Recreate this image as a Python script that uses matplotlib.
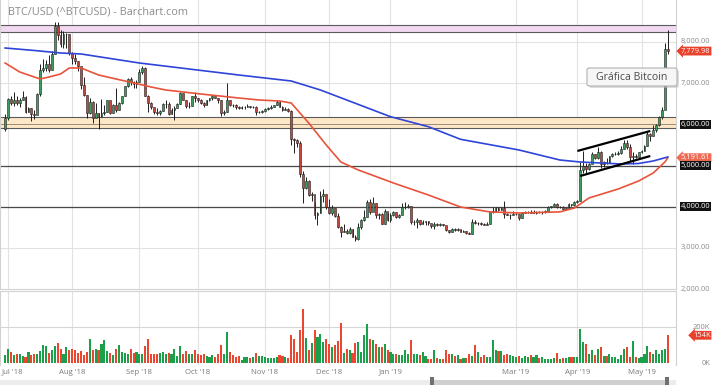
import matplotlib
matplotlib.use("Agg")
import matplotlib.pyplot as plt
from matplotlib.transforms import blended_transform_factory
from matplotlib.patches import Rectangle, FancyBboxPatch
import numpy as np
import pandas as pd

plt.rcParams['font.family'] = ['Open Sans', 'DejaVu Sans']

# daily bars, weekdays only (barchart feed), each day is (close, high, low)
# open of each bar = close of the bar before
first_open = 5900
jun18 = [(6150, 6250, 5830)]
jul18 = [(6620, 6650, 6100), (6510, 6680, 6480), (6600, 6780, 6450), (6530, 6690, 6460), (6600, 6640, 6420),
         (6670, 6800, 6600), (6300, 6680, 6280), (6390, 6410, 6290), (6250, 6390, 6080), (6230, 6340, 6130),
         (6740, 6750, 6330), (7320, 7460, 6680), (7380, 7580, 7260), (7470, 7560, 7300), (7330, 7690, 7280),
         (7720, 7780, 7390), (8400, 8480, 7700), (8170, 8490, 8060), (7940, 8300, 7870), (8190, 8260, 7860),
         (8190, 8230, 7860), (7730, 8200, 7680)]
aug18 = [(7610, 7750, 7460), (7540, 7720, 7460), (7420, 7540, 7300), (6950, 7150, 6850), (6720, 7150, 6700),
         (6280, 6720, 6150), (6540, 6630, 6250), (6150, 6570, 6040), (6270, 6530, 6180), (6190, 6270, 5880),
         (6270, 6610, 6190), (6310, 6470, 6230), (6580, 6590, 6290), (6270, 6500, 6250), (6480, 6490, 6270),
         (6360, 6880, 6290), (6530, 6540, 6350), (6690, 6700, 6500), (6920, 6940, 6680), (7090, 7130, 6900),
         (7040, 7140, 6960), (6980, 7060, 6880), (7030, 7080, 6890)]
sep18 = [(7260, 7340, 7200), (7370, 7410, 7230), (6700, 7390, 6690), (6520, 6720, 6300), (6410, 6540, 6380),
         (6300, 6380, 6250), (6280, 6400, 6230), (6330, 6350, 6220), (6490, 6530, 6330), (6490, 6580, 6390),
         (6260, 6540, 6240), (6340, 6390, 6250), (6400, 6440, 6110), (6490, 6530, 6390), (6760, 6780, 6490),
         (6590, 6720, 6580), (6440, 6600, 6390), (6450, 6550, 6400), (6680, 6700, 6440), (6640, 6790, 6550)]
oct18 = [(6590, 6650, 6540), (6530, 6610, 6500), (6480, 6540, 6420), (6580, 6600, 6480), (6630, 6640, 6560),
         (6680, 6710, 6580), (6650, 6690, 6630), (6590, 6650, 6520), (6280, 6590, 6210), (6290, 6340, 6240),
         (6600, 7000, 6290), (6480, 6600, 6450), (6460, 6500, 6420), (6430, 6490, 6380), (6400, 6450, 6370),
         (6420, 6440, 6380), (6420, 6440, 6370), (6450, 6490, 6410), (6420, 6450, 6400), (6420, 6440, 6390),
         (6290, 6440, 6230), (6300, 6320, 6270), (6320, 6340, 6270)]
nov18 = [(6380, 6400, 6300), (6400, 6430, 6360), (6430, 6460, 6380), (6470, 6480, 6410), (6550, 6600, 6460),
         (6430, 6560, 6420), (6350, 6440, 6330), (6380, 6420, 6350), (6330, 6390, 6300), (5650, 6350, 5500),
         (5620, 5680, 5300), (5550, 5640, 5450), (4800, 5600, 4720), (4450, 4880, 4100), (4620, 4720, 4420),
         (4290, 4650, 4270), (4300, 4370, 4150), (3800, 4120, 3700), (3850, 3880, 3560), (4270, 4380, 3850),
         (4300, 4420, 4110), (4000, 4320, 3940)]
dec18 = [(3840, 4180, 3820), (3960, 4050, 3800), (3770, 3970, 3750), (3500, 3850, 3490), (3400, 3540, 3260),
         (3420, 3580, 3380), (3370, 3450, 3330), (3450, 3500, 3350), (3270, 3460, 3260), (3220, 3310, 3180),
         (3500, 3600, 3200), (3670, 3700, 3450), (3750, 3930, 3660), (4120, 4160, 3750), (3880, 4200, 3830),
         (4080, 4230, 3950), (3800, 4080, 3740), (3820, 3860, 3700), (3590, 3840, 3580), (3890, 3950, 3580),
         (3690, 3840, 3650)]
jan19 = [(3800, 3850, 3630), (3880, 3900, 3770), (3750, 3880, 3730), (3790, 3820, 3720), (3990, 4100, 3960),
         (4000, 4110, 3950), (4010, 4060, 3980), (3620, 4020, 3580), (3630, 3680, 3570), (3670, 3720, 3480),
         (3580, 3690, 3570), (3620, 3680, 3580), (3650, 3660, 3570), (3600, 3660, 3560), (3530, 3580, 3490),
         (3580, 3620, 3470), (3550, 3600, 3530), (3580, 3600, 3530), (3560, 3580, 3530), (3430, 3540, 3410),
         (3400, 3440, 3370), (3460, 3480, 3390), (3430, 3490, 3420)]
feb19 = [(3450, 3480, 3410), (3400, 3440, 3390), (3410, 3430, 3390), (3360, 3420, 3350), (3350, 3380, 3340),
         (3620, 3710, 3350), (3600, 3670, 3580), (3610, 3630, 3570), (3590, 3630, 3570), (3570, 3600, 3560),
         (3590, 3630, 3570), (3880, 3900, 3650), (3900, 3990, 3860), (3970, 3990, 3880), (3930, 3990, 3910),
         (3970, 4000, 3920), (3820, 4150, 3720), (3800, 3840, 3790), (3810, 3830, 3700), (3820, 3900, 3790)]
mar19 = [(3830, 3860, 3810), (3720, 3830, 3690), (3860, 3880, 3720), (3870, 3900, 3840), (3880, 3900, 3860),
         (3860, 3920, 3840), (3860, 3930, 3840), (3880, 3890, 3830), (3870, 3890, 3860), (3870, 3900, 3830),
         (3910, 3920, 3860), (3990, 4030, 3970), (4020, 4030, 3980), (4060, 4090, 4010), (3990, 4080, 3970),
         (4000, 4010, 3980), (3940, 4010, 3920), (3960, 3980, 3930), (4070, 4080, 3950), (4040, 4070, 4030),
         (4120, 4130, 4030)]
apr19 = [(4150, 4170, 4090), (4900, 5080, 4150), (4980, 5350, 4820), (4910, 5070, 4810), (5050, 5060, 4900),
         (5270, 5320, 5150), (5190, 5270, 5150), (5330, 5460, 5170), (5040, 5350, 4950), (5090, 5110, 4960),
         (5060, 5190, 5030), (5230, 5240, 5060), (5270, 5300, 5220), (5290, 5330, 5260), (5300, 5350, 5250),
         (5400, 5480, 5270), (5560, 5620, 5400), (5440, 5630, 5400), (5210, 5530, 5100), (5240, 5320, 5050),
         (5220, 5290, 5190), (5330, 5340, 5210)]
may19 = [(5360, 5390, 5310), (5480, 5500, 5360), (5760, 5850, 5470), (5730, 5800, 5590), (5860, 5990, 5720),
         (5980, 6010, 5820), (6190, 6200, 5960), (6350, 6420, 6130), (7820, 7980, 6380), (7779.98, 8300, 7700)]

# volume in thousands
volume_k = [43, 80, 61, 43, 52, 52, 37, 33, 61, 46, 48, 52, 67, 98, 94, 56, 70, 93, 113, 80,
            48, 89, 70, 76, 70, 56, 65, 43, 61, 135, 74, 80, 70, 107, 126, 65, 57, 43, 80, 98,
            61, 56, 48, 80, 56, 61,
            52, 48, 94, 131, 52, 52, 52, 56, 59, 52, 56, 52, 76, 37, 93, 52, 65, 48, 48, 70,
            52, 43, 48, 37, 33, 43, 33, 48, 98, 48, 172, 61, 43, 33, 37, 19, 33, 33, 30, 33,
            56, 37, 37, 33, 30, 30,
            30, 33, 43, 37, 33, 28, 154, 135, 61, 181, 298, 139, 70, 111, 181, 144, 163, 117, 131, 104,
            89, 98, 122, 222, 56, 80, 70, 56, 111, 117, 61, 154, 218, 135, 126, 107, 89, 89, 107, 70,
            61, 48, 48, 43, 43, 70, 48, 126,
            48, 48, 43, 61, 37, 24, 24, 70, 28, 24, 24, 74, 52, 52, 37, 43, 24, 30, 30, 52,
            37, 98, 61, 33, 43, 33, 33, 126, 70, 65, 65, 43, 52, 43, 37, 33, 37, 30, 37, 33,
            43, 33, 43, 30, 33,
            24, 20, 24, 30, 56, 24, 30, 30, 33, 33, 33, 33,
            191, 115, 107, 48, 70, 43, 80, 89, 37, 37, 48, 33, 33, 20, 43, 76, 91, 33, 120, 33,
            30, 33, 48, 93, 61, 52, 74, 48, 70, 80, 154]

# moving averages (date, value)
ma50 = [("2018-06-29", 7490), ("2018-07-06", 7272), ("2018-07-17", 7102), ("2018-07-20", 7150),
        ("2018-07-26", 7223), ("2018-07-31", 7369), ("2018-08-06", 7369), ("2018-08-14", 7199),
        ("2018-08-30", 7005), ("2018-09-07", 6908), ("2018-09-14", 6835), ("2018-10-02", 6738),
        ("2018-10-19", 6641), ("2018-10-30", 6592), ("2018-11-08", 6568), ("2018-11-14", 6519),
        ("2018-11-22", 6034), ("2018-11-30", 5500), ("2018-12-07", 5087), ("2018-12-17", 4893),
        ("2019-01-02", 4578), ("2019-01-18", 4286), ("2019-02-04", 3995), ("2019-02-18", 3876),
        ("2019-03-04", 3850), ("2019-03-22", 3876), ("2019-03-29", 3971), ("2019-04-05", 4214),
        ("2019-04-19", 4432), ("2019-04-30", 4626), ("2019-05-07", 4820), ("2019-05-13", 5087),
        ("2019-05-14", 5191.61)]
ma200 = [("2018-06-29", 7854), ("2018-07-13", 7794), ("2018-07-26", 7733), ("2018-08-06", 7709),
         ("2018-09-03", 7490), ("2018-10-19", 7199), ("2018-11-14", 7053), ("2018-11-28", 6835),
         ("2019-01-01", 6187), ("2019-01-18", 5944), ("2019-02-04", 5638), ("2019-03-04", 5379),
         ("2019-03-22", 5136), ("2019-04-02", 5087), ("2019-04-11", 5063), ("2019-04-22", 5039),
         ("2019-04-30", 5051), ("2019-05-07", 5112), ("2019-05-14", 5209)]

# drawn levels and the rising channel
levels = [4000, 5000]
support_band = (5910, 6000, 6180)
resist_band = (8240, 8410)
channel_top = [("2019-04-01", 5354), ("2019-05-06", 5840)]
channel_bot = [("2019-04-02", 4748), ("2019-05-06", 5233)]

month_labels = ["Jul '18", "Aug '18", "Sep '18", "Oct '18", "Nov '18", "Dec '18",
                "Jan '19", "Mar '19", "Apr '19", "May '19"]
month_starts = ["2018-07-02", "2018-08-01", "2018-09-03", "2018-10-01", "2018-11-01", "2018-12-03",
                "2019-01-01", "2019-03-01", "2019-04-01", "2019-05-01"]

bars = jun18 + jul18 + aug18 + sep18 + oct18 + nov18 + dec18 + jan19 + feb19 + mar19 + apr19 + may19
dates = pd.bdate_range("2018-06-29", "2019-05-14")
closes = np.array([b[0] for b in bars], dtype=float)
highs = np.array([b[1] for b in bars], dtype=float)
lows = np.array([b[2] for b in bars], dtype=float)
opens = np.concatenate([[first_open], closes[:-1]])
x = np.arange(len(dates))
vol = np.array(volume_k, dtype=float)


def pos(d):
    return dates.get_loc(pd.Timestamp(d))


W, H = 718, 385
fig = plt.figure(figsize=(W / 100, H / 100), dpi=100)


def fx(px):
    return px / W


def fy(py):
    return 1 - py / H


XLIM = (-1.75, 229.8)
ax1 = fig.add_axes([0, fy(289.2), fx(676), 289.2 / H])
ax2 = fig.add_axes([0, fy(365), fx(676), (365 - 291) / H])
ax1.set_xlim(*XLIM)
ax1.set_ylim(2000, 9019)
ax2.set_xlim(*XLIM)
ax2.set_ylim(-11.1, 400)

for ax in (ax1, ax2):
    ax.set_xticks([])
    ax.set_yticks([])
    for s in ax.spines.values():
        s.set_color('#d2d2d2')
        s.set_linewidth(0.8)
ax1.spines['top'].set_visible(False)
ax2.spines['bottom'].set_visible(False)

grid_c = '#e2e2e2'
mpos = [pos(d) for d in month_starts]
for m in mpos:
    ax1.axvline(m, color=grid_c, lw=0.8, zorder=0)
    ax2.axvline(m, color=grid_c, lw=0.8, zorder=0)
for p in range(3000, 9000, 1000):
    ax1.axhline(p, color=grid_c, lw=0.8, zorder=0)
ax2.axhline(200, color='#d6d6d6', lw=0.8, zorder=0)

# bands and levels
ax1.axhspan(resist_band[0], resist_band[1], color='#f2d9f2', zorder=1, lw=0)
for v in resist_band:
    ax1.axhline(v, color='#5a5a5a', lw=0.8, zorder=2)
ax1.axhspan(support_band[0], support_band[2], color='#fde7c6', zorder=1, lw=0)
ax1.axhline(support_band[0], color='#5a5a5a', lw=0.8, zorder=2)
ax1.axhline(support_band[1], color='#9a8c7a', lw=0.7, zorder=2)
ax1.axhline(support_band[2], color='#5a5a5a', lw=0.8, zorder=2)
for v in levels:
    ax1.axhline(v, color='#4a4a4a', lw=0.9, zorder=2)

# candles
up = closes >= opens
body_c = np.where(up, '#3c9d5e', '#c2493d')
ax1.vlines(x, lows, highs, color='#1e1e1e', lw=0.7, zorder=3)
body_h = np.maximum(np.abs(closes - opens), 10)
ax1.bar(x, body_h, bottom=np.minimum(opens, closes), width=0.62, color=body_c,
        edgecolor='#1e1e1e', linewidth=0.4, zorder=3)

# moving averages
ax1.plot([pos(d) for d, _ in ma50], [v for _, v in ma50], color='#e8533b', lw=1.2, zorder=4)
ax1.plot([pos(d) for d, _ in ma200], [v for _, v in ma200], color='#2f44d8', lw=1.2, zorder=4)

# channel
for line in (channel_top, channel_bot):
    ax1.plot([pos(d) for d, _ in line], [v for _, v in line], color='black', lw=1.6,
             solid_capstyle='butt', zorder=5)

# volume
vol_c = np.where(up, '#1c9f4b', '#ea4630')
ax2.bar(x, vol, width=0.72, color=vol_c, lw=0, zorder=2)

# right axis labels
tr_p = blended_transform_factory(fig.transFigure, ax1.transData)
tr_v = blended_transform_factory(fig.transFigure, ax2.transData)
lab_x = fx(710.5)
lab_fs = 5.4
for p in (8000, 7000, 3000, 2000):
    ax1.text(lab_x, p, f"{p:,.2f}", transform=tr_p, ha='right', va='center',
             fontsize=lab_fs, color='#8a8a8a', clip_on=False)
ax1.text(lab_x, ma50[-1][1], f"{ma50[-1][1]:,.2f}", transform=tr_p, ha='right', va='center',
         fontsize=lab_fs, color='white', clip_on=False, zorder=6,
         bbox=dict(boxstyle='larrow,pad=0.12', fc='#ee6a52', ec='none'))
for p in (6000, 5000, 4000):
    ax1.text(lab_x, p, f"{p:,.2f}", transform=tr_p, ha='right', va='center',
             fontsize=lab_fs, color='white', clip_on=False, zorder=7,
             bbox=dict(boxstyle='square,pad=0.12', fc='#111111', ec='none'))
ax1.text(lab_x, closes[-1], f"{closes[-1]:,.2f}", transform=tr_p, ha='right', va='center',
         fontsize=lab_fs, color='white', clip_on=False, zorder=7,
         bbox=dict(boxstyle='larrow,pad=0.12', fc='#e8412c', ec='none'))
for v in (200, 0):
    ax2.text(lab_x, v, f"{v}K", transform=tr_v, ha='right', va='center',
             fontsize=lab_fs, color='#8a8a8a', clip_on=False)
ax2.text(lab_x, vol[-1], f"{int(vol[-1])}K", transform=tr_v, ha='right', va='center',
         fontsize=lab_fs, color='white', clip_on=False, zorder=7,
         bbox=dict(boxstyle='larrow,pad=0.12', fc='#e8412c', ec='none'))

# month labels (first one pushed right so it stays inside the picture)
tr_x = blended_transform_factory(ax2.transData, fig.transFigure)
for i, (m, lab) in enumerate(zip(mpos, month_labels)):
    if i == 0:
        fig.text(fx(1.5), fy(372), lab, ha='left', va='center', fontsize=5.6, color='#7a7a7a')
    else:
        ax2.text(m, fy(372), lab, transform=tr_x, ha='center', va='center',
                 fontsize=5.6, color='#7a7a7a', clip_on=False)

# title
fig.text(fx(8), fy(12), "BTC/USD (^BTCUSD) - Barchart.com", ha='left', va='center',
         fontsize=7.8, color='#8c8c8c')

# annotation box
shadow = FancyBboxPatch((fx(589), fy(88)), fx(90), 18 / H, boxstyle='round,pad=0,rounding_size=0.004',
                        transform=fig.transFigure, fc='#bdbdbd', ec='none', alpha=0.5, zorder=8)
box = FancyBboxPatch((fx(587), fy(86)), fx(90), 18 / H, boxstyle='round,pad=0,rounding_size=0.004',
                     transform=fig.transFigure, fc='#f6f6f6', ec='#a8a8a8', lw=0.7, zorder=9)
fig.patches.extend([shadow, box])
fig.text(fx(632), fy(77), "Gráfica Bitcoin", ha='center', va='center', fontsize=7.6,
         color='#4a4a4a', zorder=10)

# scroll bar at the bottom
fig.patches.append(Rectangle((0, fy(385)), fx(676), 5 / H, transform=fig.transFigure,
                             fc='#ececec', ec='none'))
fig.patches.append(Rectangle((fx(432), fy(385)), fx(236), 5 / H, transform=fig.transFigure,
                             fc='#cfcfcf', ec='none'))
for hx in (430, 665):
    fig.patches.append(Rectangle((fx(hx), fy(385)), fx(4), 8 / H, transform=fig.transFigure,
                                 fc='#707070', ec='none'))

fig.savefig("out.png", dpi=100)
